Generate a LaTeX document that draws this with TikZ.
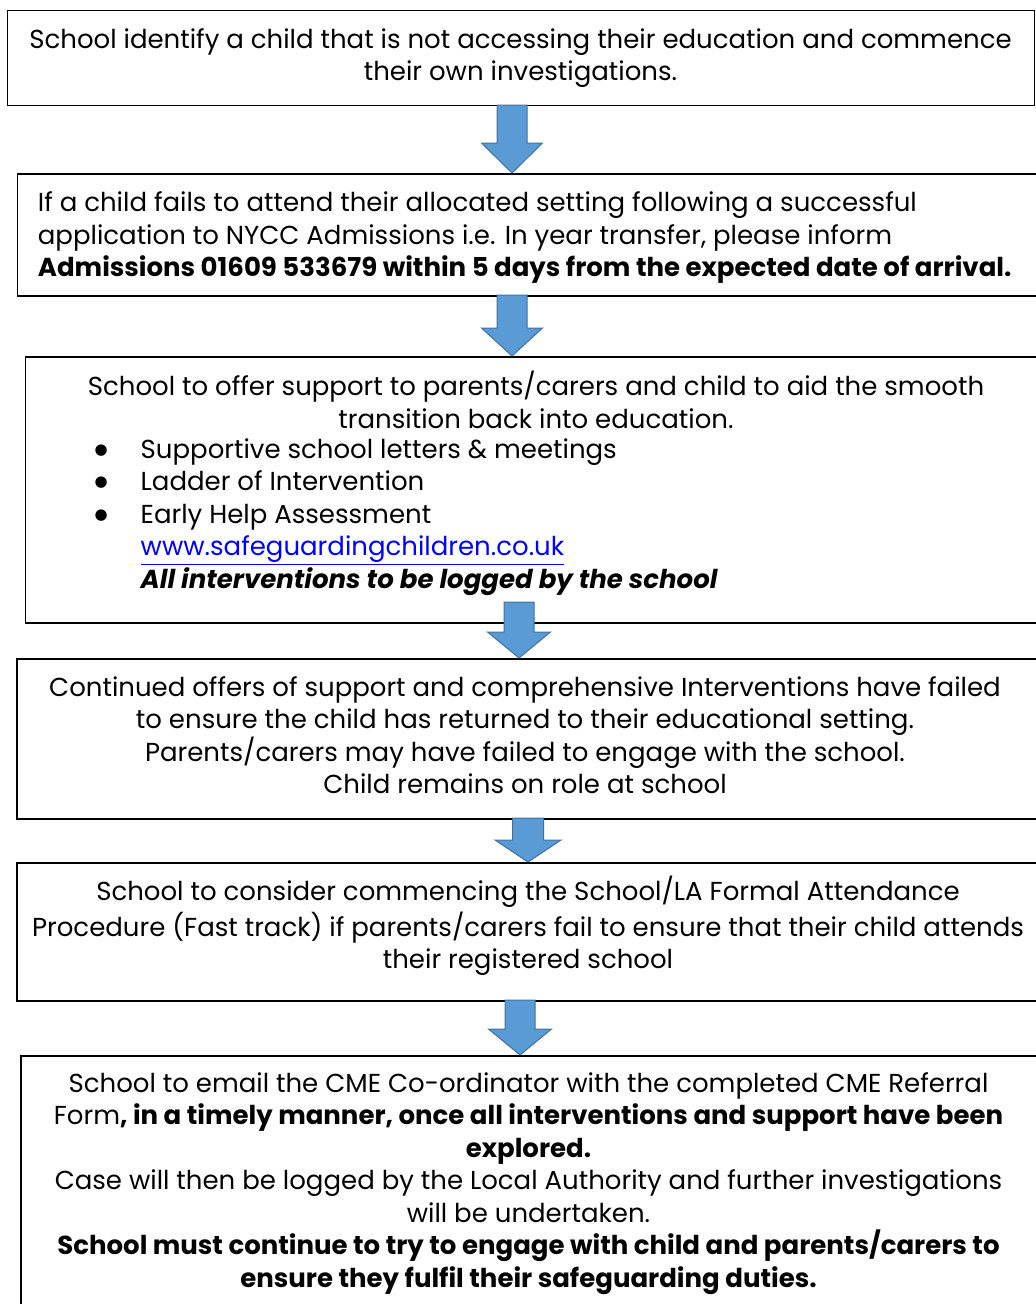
\documentclass[tikz,border=0pt]{standalone}
\usepackage{fontspec}
\setmainfont{Poppins}
\newfontfamily\dejavu{DejaVu Sans}
\usetikzlibrary{calc}
\definecolor{arrowfill}{HTML}{5B9BD5}
\definecolor{arrowline}{HTML}{41719C}
\definecolor{linkblue}{RGB}{0,0,255}
\tikzset{
  box/.style={draw=black, line width=1.5pt, rectangle, inner sep=0pt, anchor=north west},
  txt/.style={font=\fontsize{26}{32.5}\selectfont, inner sep=0pt, align=center, anchor=north},
  ltxt/.style={font=\fontsize{26}{32.5}\selectfont, inner sep=0pt, align=left, anchor=north west},
  blockarrow/.style={fill=arrowfill, draw=arrowline, line width=1pt, line join=miter}
}
\newcommand{\bul}{\makebox[46pt][l]{\raisebox{4pt}{\dejavu\fontsize{15}{18}\selectfont ●}}}
% #1 top coordinate, #2 tip coordinate, #3 head length, #4 shaft half width, #5 head half width
\newcommand{\blockarr}[5]{%
  \path[blockarrow] let \p1=(#1), \p2=(#2) in
    (\x2-#4,\y1) -- (\x2+#4,\y1) -- (\x2+#4,\y2+#3) -- (\x2+#5,\y2+#3) -- (\x2,\y2)
    -- (\x2-#5,\y2+#3) -- (\x2-#4,\y2+#3) -- cycle;}
\begin{document}
\begin{tikzpicture}[x=1pt,y=-1pt]
\useasboundingbox (0,0) rectangle (1036,1304);
\clip (0,0) rectangle (1036,1304);
% boxes
\node[box, minimum width=1027pt, minimum height=95pt] (b1) at (6.6,9.8) {};
\node[box, minimum width=1030pt, minimum height=122pt] (b2) at (16.5,173) {};
\node[box, minimum width=1030pt, minimum height=266pt] (b3) at (24.5,356) {};
\node[box, minimum width=1030pt, minimum height=160pt] (b4) at (16,658) {};
\node[box, minimum width=1030pt, minimum height=138pt] (b5) at (16,862) {};
\node[box, minimum width=1030pt, minimum height=270pt] (b6) at (20,1055) {};
% arrows
\coordinate (a1t) at (512,105);  \coordinate (a1p) at (512,173);
\coordinate (a2t) at (512,295);  \coordinate (a2p) at (512,356);
\coordinate (a3t) at (519,602);  \coordinate (a3p) at (519,658);
\coordinate (a4t) at (528,818);  \coordinate (a4p) at (528,862);
\coordinate (a5t) at (520,1000); \coordinate (a5p) at (520,1055);
\blockarr{a1t}{a1p}{30}{15}{30.5}
\blockarr{a2t}{a2p}{28}{15}{30.5}
\blockarr{a3t}{a3p}{26}{15}{31.5}
\blockarr{a4t}{a4p}{22}{15.5}{33}
\blockarr{a5t}{a5p}{26}{15}{31.5}
% texts
\node[txt] (t1) at (520.5,25.25) {\strut School identify a child that is not accessing their education and commence\\their own investigations.};
\node[ltxt] (t2) at (37.7,189) {\strut If a child fails to attend their allocated setting following a successful\\application to NYCC Admissions i.e. In year transfer, please inform\\\textbf{Admissions 01609 533679 within 5 days from the expected date of arrival.}};
\node[txt] (t3) at (536,371.25) {\strut School to offer support to parents/carers and child to aid the smooth\\transition back into education.};
\node[ltxt] (t3b) at (94.5,435.25) {\strut\bul Supportive school letters \& meetings\\
\bul Ladder of Intervention\\
\bul Early Help Assessment\\
\hspace*{46pt}\textcolor{linkblue}{\underline{www.safeguardingchildren.co.uk}}\\
\hspace*{46pt}\textbf{\textit{All interventions to be logged by the school}}};
\node[txt] (t4) at (525,673.25) {\strut Continued offers of support and comprehensive Interventions have failed\\to ensure the child has returned to their educational setting.\\Parents/carers may have failed to engage with the school.\\Child remains on role at school};
\node[txt] (t5) at (528,876.25) {\strut School to consider commencing the School/LA Formal Attendance\\Procedure (Fast track) if parents/carers fail to ensure that their child attends\\their registered school};
\node[txt] (t6) at (528.5,1069.25) {\strut School to email the CME Co-ordinator with the completed CME Referral\\Form\textbf{, in a timely manner, once all interventions and support have been}\\\textbf{explored.}\\Case will then be logged by the Local Authority and further investigations\\will be undertaken.\\\textbf{School must continue to try to engage with child and parents/carers to}\\\textbf{ensure they fulfil their safeguarding duties.}};
\end{tikzpicture}
\end{document}
